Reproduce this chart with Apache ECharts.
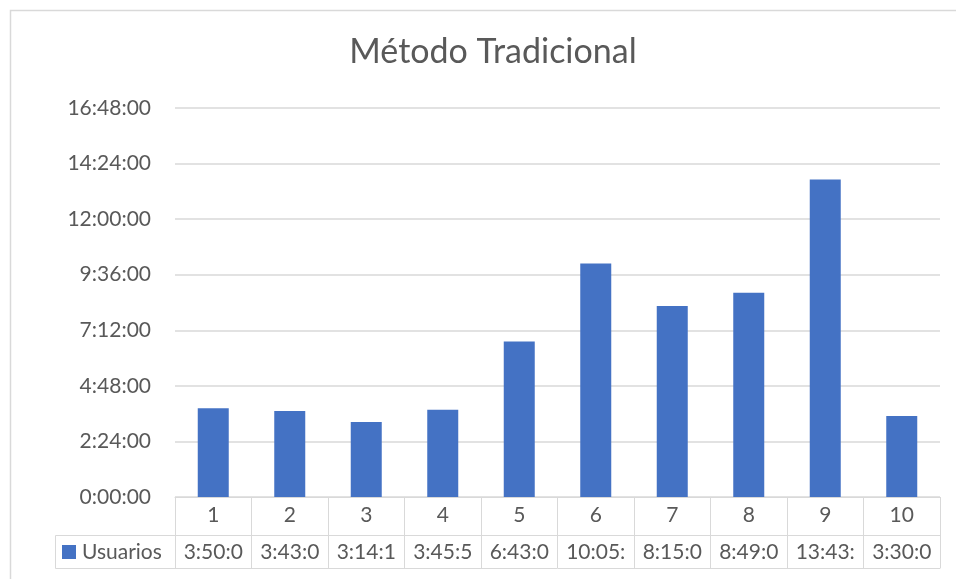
<!DOCTYPE html>
<html>
<head>
<meta charset="utf-8">
<script src="https://cdn.jsdelivr.net/npm/echarts@6/dist/echarts.min.js"></script>
<style>html,body{margin:0;padding:0;background:#fff}#c{width:956px;height:579px}</style>
</head>
<body>
<div id="c"></div>
<script>
const titleText = "Método Tradicional";
const seriesName = "Usuarios";
const categories = ["1","2","3","4","5","6","7","8","9","10"];
const durations = ["3:50:00","3:43:00","3:14:10","3:45:50","6:43:00","10:05:00","8:15:00","8:49:00","13:43:00","3:30:00"];
const yMaxLabel = "16:48:00";
const yStepLabel = "2:24:00";

function toSec(s){const p=s.split(":").map(Number);return p[0]*3600+p[1]*60+p[2];}
function fmt(sec){const h=Math.floor(sec/3600),m=Math.floor((sec%3600)/60),s=Math.round(sec%60);return h+":"+String(m).padStart(2,"0")+":"+String(s).padStart(2,"0");}
const values = durations.map(toSec);
const FONT = "Lato";
const TXT = "#595959";
const LINE = "#d9d9d9";

const chart = echarts.init(document.getElementById('c'));
chart.setOption({
  animation:false,
  backgroundColor:"#fff",
  title:{text:titleText,left:488,top:30,textAlign:"center",textStyle:{fontFamily:FONT,fontSize:34,fontWeight:"normal",color:TXT}},
  legend:{show:false},
  grid:{left:175,right:16,top:108,bottom:82,containLabel:false},
  xAxis:[
    {type:"category",data:categories,position:"bottom",
     axisLine:{lineStyle:{color:LINE,width:1}},
     axisTick:{show:true,interval:0,length:71,lineStyle:{color:LINE}},
     axisLabel:{interval:0,hideOverlap:false,margin:8,fontFamily:FONT,fontSize:21,color:TXT}},
    {type:"category",data:categories,position:"bottom",offset:38,
     axisLine:{lineStyle:{color:LINE,width:1}},axisTick:{show:false},
     axisLabel:{interval:0,hideOverlap:false,margin:7,fontFamily:FONT,fontSize:21,color:TXT,
       formatter:(v,i)=>fmt(values[i]).slice(0,6)}},
    {type:"category",data:categories,position:"bottom",offset:71,
     axisLine:{lineStyle:{color:LINE,width:1}},axisTick:{show:false},axisLabel:{show:false}}
  ],
  yAxis:{type:"value",min:0,max:toSec(yMaxLabel),interval:toSec(yStepLabel),
    axisLine:{show:false},axisTick:{show:false},
    splitLine:{lineStyle:{color:LINE,width:1.5}},
    axisLabel:{margin:24,fontFamily:FONT,fontSize:21,color:TXT,formatter:v=>fmt(v)}},
  series:[{name:seriesName,type:"bar",data:values,barWidth:31,itemStyle:{color:"#4472C4"}}],
  graphic:[
    {type:"rect",shape:{x:10.5,y:10.5,width:990,height:620},style:{fill:null,stroke:LINE,lineWidth:1.5},silent:true},
    {type:"rect",shape:{x:55.5,y:535.5,width:120,height:33},style:{fill:null,stroke:LINE,lineWidth:1},silent:true},
    {type:"rect",shape:{x:62,y:545,width:14,height:14},style:{fill:"#4472C4"},silent:true},
    {type:"text",style:{x:82,y:552,text:seriesName,fontFamily:FONT,fontSize:21,fill:TXT,verticalAlign:"middle"},silent:true}
  ]
});
</script>
</body>
</html>
